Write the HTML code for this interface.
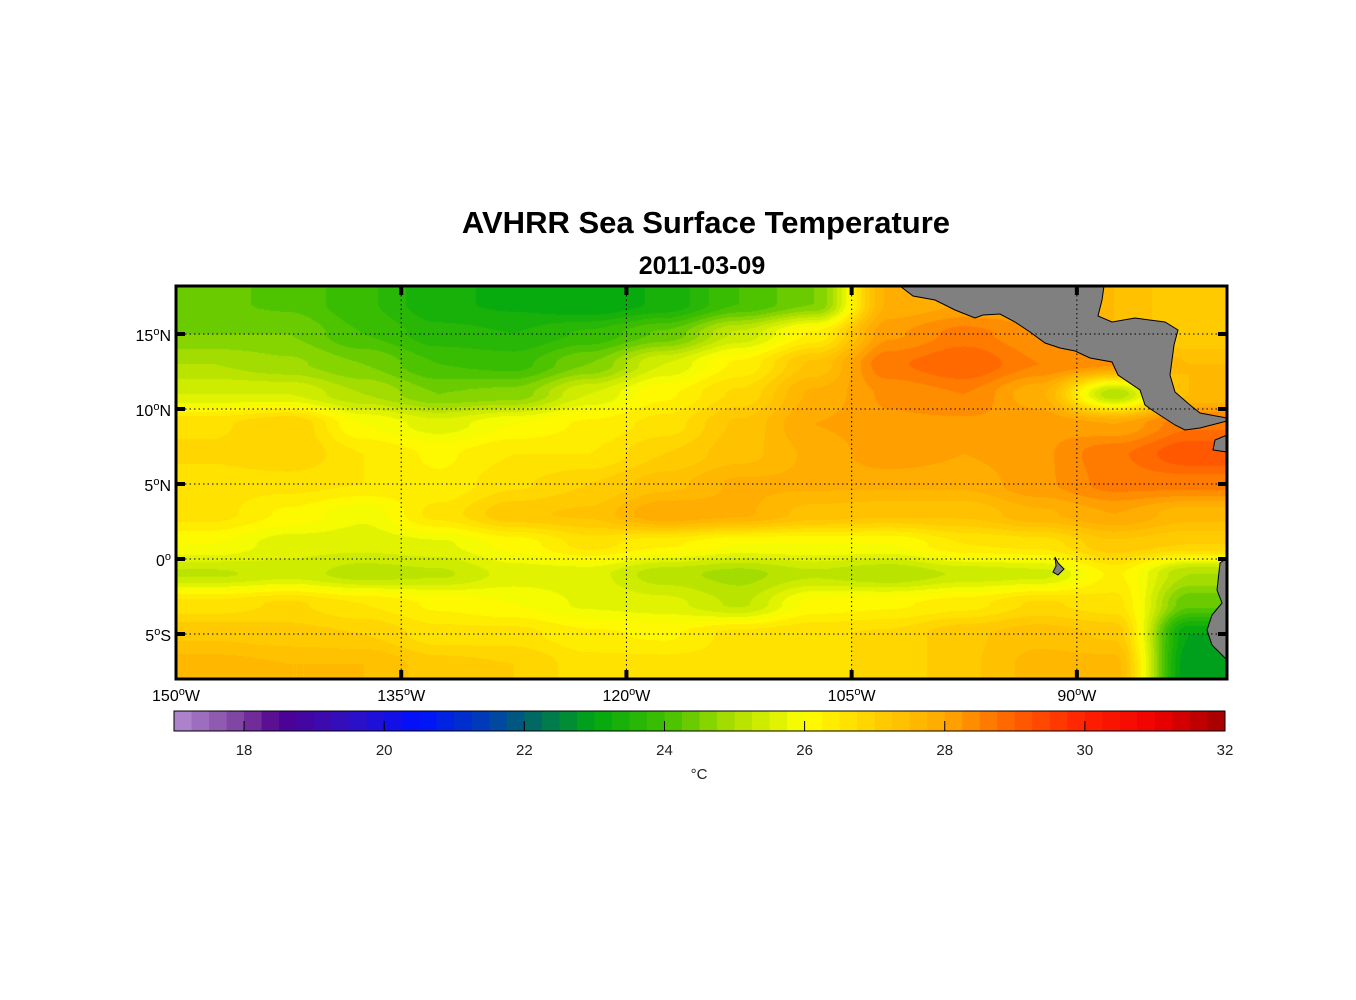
<!DOCTYPE html>
<html><head><meta charset="utf-8">
<style>
body{margin:0;background:#fff;width:1356px;height:1000px;position:relative;overflow:hidden;font-family:"Liberation Sans",Arial,sans-serif}
.t{position:absolute;white-space:nowrap}
</style></head><body>
<div class="t" style="left:0;width:1412px;text-align:center;top:205px;font-size:31px;font-weight:bold">AVHRR Sea Surface Temperature</div>
<div class="t" style="left:0;width:1404px;text-align:center;top:252px;font-size:25px;font-weight:bold">2011-03-09</div>
<canvas id="map" width="1051" height="393" style="position:absolute;left:176px;top:286px"></canvas>
<svg id="ov" width="1356" height="1000" style="position:absolute;left:0;top:0"></svg>
<script>
const lonCenters=[-147.5,-142.5,-137.5,-132.5,-127.5,-122.5,-117.5,-112.5,-107.5,-102.5,-97.5,-92.5,-87.5,-82.5];
const latCenters=[17,15,13,11,9,7,5,3,1,-1,-3,-5,-7];
const sst=[
[24.3,24.2,23.8,23.3,23.2,23,23.3,24,24.5,27.8,28,28,27.5,27],
[24.5,24.5,24,23.6,23.5,23.8,24.3,25.3,26.3,28.2,28.6,28.3,27.5,27],
[25,24.8,24.5,24,23.9,24.5,25.5,26.3,27.3,28.7,29,28.5,28.3,27.5],
[25.5,25.5,25,24.5,24.6,25.5,26.2,26.8,27.8,28.3,28.5,27.8,25,27.5],
[26.7,27,26,25.6,26,26.3,26.6,27.3,28,28.2,28.2,28.2,28,28.7],
[26.8,27,26.5,26.2,26.5,26.5,27,27.4,27.8,28.2,28,28.2,28.7,29.2],
[26.6,26.6,26.5,26.3,26.7,27,27.4,27.8,27.8,27.8,27.8,28.2,28.6,28.6],
[26.6,26.2,25.8,26.6,27.2,27.3,28,27.8,27.4,27.3,27.3,27.7,28,27.6],
[26,25.6,25.6,25.7,26.1,26.6,26.3,26,26,26,26.5,26.6,27.2,27],
[25.2,25.4,25.1,25.2,25.6,25.6,25.1,24.9,25.2,25,25.3,25.4,26.3,25],
[26.6,26.8,26.5,26.2,26,25.7,25.6,25.2,26.1,26.2,26.4,26.8,26.6,24.3],
[27.2,27.1,27,26.6,26.6,26.3,26.2,26.6,26.7,26.8,27.2,27.4,27.2,23],
[27.6,27.5,27.5,27.1,27,26.6,26.6,26.6,26.7,26.8,27.2,27.6,27.6,22.8]];
const cbTicks=[18,20,22,24,26,28,30,32];
const lonTicks=[-150,-135,-120,-105,-90];
const latTicks=[15,10,5,0,-5];
const cmapV=[17,18,18.5,19.5,20.5,21.5,22,23,24,25,26,27,28,29,30,31,32];
const cmapC=['#b48cd2','#7a3c9c','#500090','#3010c0','#0010ff','#0040b0','#006070','#00a810','#40c000','#b0e000','#ffff00','#ffd000','#ffa800','#ff6000','#ff2000','#f00000','#a00000'];
const X0=176,Y0=286,W=1051,H=393,LON0=-150,LON1=-80,LAT0=18.2,LAT1=-8;
const xS=l=>X0+(l-LON0)/(LON1-LON0)*W;
const yS=l=>Y0+(LAT0-l)/(LAT0-LAT1)*H;
const CB0=174,CB1=1225,cbX=v=>CB0+(v-17)/(32-17)*(CB1-CB0);
function hex(h){return [parseInt(h.substr(1,2),16),parseInt(h.substr(3,2),16),parseInt(h.substr(5,2),16)]}
const cmapRGB=cmapC.map(hex);
function color(v){v=Math.max(17,Math.min(32,v));v=Math.floor(v*4)/4+0.125;
 for(let i=0;i<cmapV.length-1;i++){if(v<=cmapV[i+1]){const t=(v-cmapV[i])/(cmapV[i+1]-cmapV[i]);const a=cmapRGB[i],b=cmapRGB[i+1];return [a[0]+(b[0]-a[0])*t,a[1]+(b[1]-a[1])*t,a[2]+(b[2]-a[2])*t]}}return cmapRGB[cmapRGB.length-1]}
function interp(lon,lat){
 let fi=(lon-lonCenters[0])/(lonCenters[1]-lonCenters[0]);let fj=(latCenters[0]-lat)/(latCenters[0]-latCenters[1]);
 fi=Math.max(0,Math.min(lonCenters.length-1,fi));fj=Math.max(0,Math.min(latCenters.length-1,fj));
 const i=Math.min(Math.floor(fi),lonCenters.length-2),j=Math.min(Math.floor(fj),latCenters.length-2);
 let a=fi-i,b=fj-j;a=a*a*(3-2*a);b=b*b*(3-2*b);
 return sst[j][i]*(1-a)*(1-b)+sst[j][i+1]*a*(1-b)+sst[j+1][i]*(1-a)*b+sst[j+1][i+1]*a*b}
const cv=document.getElementById('map'),ctx=cv.getContext('2d'),img=ctx.createImageData(W,H);
for(let py=0;py<H;py++){const lat=LAT0-(py+0.5)/H*(LAT0-LAT1);for(let px=0;px<W;px++){const lon=LON0+(px+0.5)/W*(LON1-LON0);const c=color(interp(lon,lat));const k=(py*W+px)*4;img.data[k]=c[0];img.data[k+1]=c[1];img.data[k+2]=c[2];img.data[k+3]=255}}
ctx.putImageData(img,0,0);
const NS='http://www.w3.org/2000/svg',ov=document.getElementById('ov');
function mk(t,at,name){const e=document.createElementNS(NS,t);for(const k in at)e.setAttribute(k,at[k]);


ov.appendChild(e);return e}
mk('polygon',{points:'900,286 913,296 935,300 955,310 975,318 983,315 1000,314 1015,322 1030,332 1045,343 1060,348 1075,351 1090,358 1112,362 1118,375 1140,390 1145,405 1152,410 1175,425 1185,430 1200,428 1227,421 1227,418 1200,413 1190,405 1175,392 1170,375 1174,345 1178,330 1165,322 1135,318 1112,322 1098,316 1102,300 1104,286',fill:'#808080',stroke:'#000','stroke-width':1},'central-america-land');
mk('polygon',{points:'1227,435 1215,440 1213,450 1227,452',fill:'#808080',stroke:'#000','stroke-width':1},'panama-land');
mk('polygon',{points:'1227,558 1220,563 1217,590 1222,603 1212,615 1207,630 1212,645 1222,655 1227,660',fill:'#808080',stroke:'#000','stroke-width':1},'south-america-land');
mk('polygon',{points:'1055,557 1058,563 1064,569 1058,575 1053,572 1056,566',fill:'#808080',stroke:'#000','stroke-width':1},'galapagos-land');
lonTicks.slice(1).forEach(l=>{mk('line',{x1:xS(l),x2:xS(l),y1:Y0,y2:Y0+H,stroke:'#000','stroke-width':1,'stroke-dasharray':'1.5,3'},'lon-gridline');
 mk('line',{x1:xS(l),x2:xS(l),y1:Y0,y2:Y0+9,stroke:'#000','stroke-width':4},'lon-tick-top');
 mk('line',{x1:xS(l),x2:xS(l),y1:Y0+H-9,y2:Y0+H,stroke:'#000','stroke-width':4},'lon-tick-bottom');});
latTicks.forEach(l=>{mk('line',{x1:X0,x2:X0+W,y1:yS(l),y2:yS(l),stroke:'#000','stroke-width':1,'stroke-dasharray':'1.5,3'},'lat-gridline');
 mk('line',{x1:X0,x2:X0+9,y1:yS(l),y2:yS(l),stroke:'#000','stroke-width':4},'lat-tick-left');
 mk('line',{x1:X0+W-9,x2:X0+W,y1:yS(l),y2:yS(l),stroke:'#000','stroke-width':4},'lat-tick-right');});
mk('rect',{x:X0,y:Y0,width:W,height:H,fill:'none',stroke:'#000','stroke-width':3},'map-frame');
function label(x,y,txt,sup,suf,anchor,name){const t=mk('text',{x:x,y:y,'font-size':16,'text-anchor':anchor,'font-family':'Liberation Sans, Arial, sans-serif'},name);
 t.appendChild(document.createTextNode(txt));const s=document.createElementNS(NS,'tspan');s.setAttribute('dy',-6);s.setAttribute('font-size',11);s.textContent=sup;t.appendChild(s);
 const s2=document.createElementNS(NS,'tspan');s2.setAttribute('dy',6);s2.textContent=suf;t.appendChild(s2);}
lonTicks.forEach(l=>label(xS(l),701,String(-l),'o','W','middle','lon-tick-label'));
latTicks.forEach(l=>label(171,yS(l)+7,String(Math.abs(l)),'o',l>0?'N':(l<0?'S':''),'end','lat-tick-label'));
for(let v=17;v<32;v+=0.25){const c=color(v);mk('rect',{x:cbX(v),y:711,width:cbX(v+0.25)-cbX(v)+0.5,height:20,fill:'rgb('+c.map(Math.round).join(',')+')'},'colorbar-step')}
mk('rect',{x:CB0,y:711,width:CB1-CB0,height:20,fill:'none',stroke:'#000','stroke-width':1},'colorbar-frame');
cbTicks.forEach(v=>{mk('line',{x1:cbX(v),x2:cbX(v),y1:721,y2:731,stroke:'#000','stroke-width':1},'colorbar-tick');
 const t=mk('text',{x:cbX(v),y:755,'font-size':15,'text-anchor':'middle',fill:'#222','font-family':'Liberation Sans, Arial, sans-serif'},'colorbar-tick-label');t.textContent=v;});
const u=mk('text',{x:699,y:779,'font-size':15,'text-anchor':'middle',fill:'#222','font-family':'Liberation Sans, Arial, sans-serif'},'colorbar-unit-label');u.textContent='°C';
</script>
</body></html>
